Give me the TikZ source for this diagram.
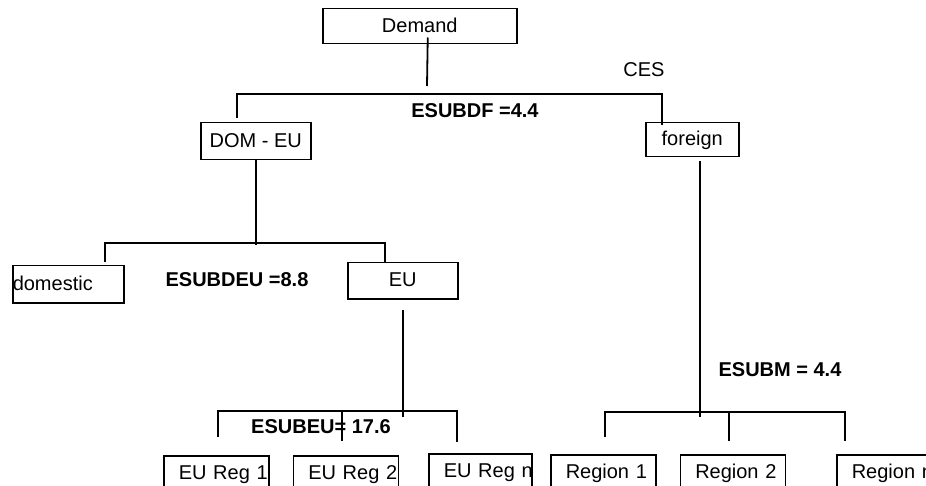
\documentclass[tikz,border=0pt]{standalone}
\usepackage{fontspec}
\setmainfont{Liberation Sans}
\usetikzlibrary{positioning}

\begin{document}
\begin{tikzpicture}[x=1pt,y=-1pt,font=\fontsize{20}{24}\selectfont]
  \tikzstyle{box}=[draw,line width=1.5pt,inner sep=0pt,anchor=north west,text height=15pt,text depth=3pt]
  \tikzstyle{leaf}=[box,inner xsep=15pt,text width=75pt,align=left,minimum height=36pt]
  \tikzstyle{link}=[line width=1.8pt]
  \tikzstyle{elas}=[font=\fontsize{20}{24}\selectfont\bfseries]

  \useasboundingbox (0,0) rectangle (926,486);
  \clip (0,0) rectangle (926,486);

  \node[box,minimum width=194pt,minimum height=35pt] (demand)   at (322,8)   {Demand};
  \node[box,minimum width=110pt,minimum height=37pt] (domeu)    at (200,122) {DOM - EU};
  \node[box,minimum width=93pt,minimum height=34pt]  (foreign)  at (645,122) {foreign};
  \node[box,text width=111pt,align=left,minimum height=37pt] (domestic) at (12,265) {domestic};
  \node[box,minimum width=110pt,minimum height=36pt] (eu)       at (347,262) {EU};

  \node[leaf]                       (eureg1) at (163,455)          {\mbox{EU Reg 1}};
  \node[leaf,right=23pt of eureg1]  (eureg2)                       {\mbox{EU Reg 2}};
  \node[leaf,text width=73pt]       (euregn) at (428,453)          {\mbox{EU Reg n}};
  \node[leaf]                       (reg1)   at (550,454)          {\mbox{Region 1}};
  \node[leaf,right=23pt of reg1]    (reg2)                         {\mbox{Region 2}};
  \node[leaf,right=50pt of reg2]    (regn)                         {\mbox{Region n}};

  \node        (ces)     at (644,70)  {CES};
  \node[elas]  (esubdf)  at (475,111) {ESUBDF =4.4};
  \node[elas]  (esubdeu) at (237,280) {ESUBDEU =8.8};
  \node[elas]  (esubm)   at (780,370) {ESUBM = 4.4};
  \node[elas]  (esubeu)  at (321,427) {ESUBEU= 17.6};

  \coordinate (top) at (427,86);
  \coordinate (dfL) at (237,94);
  \coordinate (dfR) at (662,94);
  \coordinate (deu) at (256,245);
  \coordinate (deL) at (105,243);
  \coordinate (deR) at (385,243);
  \coordinate (eum) at (403,417);
  \coordinate (euL) at (218,411);
  \coordinate (euM) at (342,411);
  \coordinate (euR) at (457,411);
  \coordinate (fm)  at (700,417);
  \coordinate (fL)  at (605,412);
  \coordinate (fM)  at (729,412);
  \coordinate (fR)  at (845,412);

  \draw[link] ([xshift=8pt,yshift=7pt]demand.south) -- (top);
  \draw[link] ([yshift=4pt]domeu.north -| dfL) -- (dfL) -- (dfR) -- ([yshift=-3pt]foreign.north -| dfR);

  \draw[link] (domeu.south -| deu) -- (deu);
  \draw[link] ([yshift=3pt]domestic.north -| deL) -- (deL) -- (deR) -- (eu.north -| deR);

  \draw[link] ([yshift=-10pt]eu.south -| eum) -- (eum);
  \draw[link] ([yshift=18pt]eureg1.north -| euL) -- (euL) -- (euR) -- ([yshift=11pt]euregn.north -| euR);
  \draw[link] (euM) -- ([yshift=14pt]eureg2.north -| euM);

  \draw[link] ([yshift=-4pt]foreign.south -| fm) -- (fm);
  \draw[link] ([yshift=17pt]reg1.north -| fL) -- (fL) -- (fR) -- ([yshift=13pt]regn.north -| fR);
  \draw[link] (fM) -- ([yshift=13pt]reg2.north -| fM);
\end{tikzpicture}
\end{document}
